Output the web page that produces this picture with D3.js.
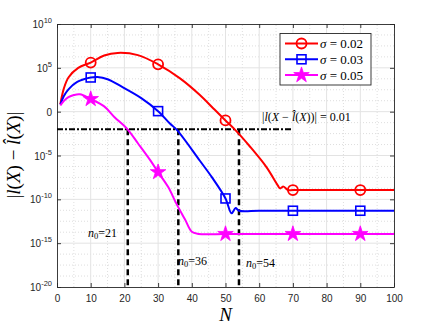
<!DOCTYPE html>
<html>
<head>
<meta charset="utf-8">
<script src="https://cdn.jsdelivr.net/npm/d3@7"></script>
<style>
  body { margin: 0; background: #fff; }
  svg { display: block; }
  .tick-label { font-family: "Liberation Sans", Arial, sans-serif; font-size: 10px; fill: #262626; }
  .tex { font-family: "Liberation Serif", "Times New Roman", serif; fill: #000; }
</style>
</head>
<body>
<svg id="chart" width="436" height="327"></svg>
<script>
// values; y values are log10 of |l(X) - l^(X)|
const redN   = [1, 2, 3.4, 6.3, 10, 14, 18, 24, 30, 36.5, 42.4, 46.4, 50, 52.8, 57.3, 62.2, 65.5, 66.2, 67.2, 68.5, 70, 80, 90, 100];
const redLog = [0.86, 2.6, 3.9, 5.0, 5.6, 6.4, 6.7, 6.45, 5.4, 3.8, 1.9, 0.37, -1.0, -2.05, -4.0, -6.35, -8.4, -8.75, -8.55, -8.94, -8.94, -8.94, -8.94, -8.94];
const blueN   = [1, 2, 3.4, 6, 10, 12, 15, 19.2, 25, 30, 33.5, 35.5, 42.4, 46, 50, 51.8, 53, 54, 60, 70, 80, 90, 100];
const blueLog = [0.8, 1.75, 2.55, 3.4, 3.9, 3.95, 3.7, 2.85, 1.55, 0.06, -1.36, -2.05, -5.6, -7.5, -9.9, -11.6, -11.0, -11.3, -11.3, -11.3, -11.3, -11.3, -11.3];
const magN   = [1, 2, 3.4, 5, 6.8, 10, 14, 17, 20.7, 24, 27.6, 30, 33, 35.5, 38, 40, 42, 50, 60, 70, 80, 90, 100];
const magLog = [0.7, 1.2, 1.65, 1.9, 1.98, 1.44, 0.6, -0.6, -1.9, -3.6, -5.5, -6.9, -8.6, -10.55, -12.3, -13.7, -13.95, -13.95, -13.95, -13.95, -13.95, -13.95, -13.95];

const markN = [10, 30, 50, 70, 90];
const redMarkLog  = [5.6, 5.4, -1.0, -8.94, -8.94];
const blueMarkLog = [3.9, 0.06, -9.9, -11.3, -11.3];
const magMarkLog  = [1.44, -6.9, -13.95, -13.95, -13.95];

const sigmaLabels = ['0.02', '0.03', '0.05'];
const seriesColours = ['#ff0000', '#0000ff', '#ff00ff'];

const xTicks = [0, 10, 20, 30, 40, 50, 60, 70, 80, 90, 100];
const yTickExp = [10, 5, 0, -5, -10, -15, -20];
const threshold = 0.01;
const thresholdEnd = 70;
const n0 = [21, 36, 54];

// layout
const svg = d3.select('#chart');
const margin = {left: 57, right: 42, top: 24, bottom: 40};
const width = 436, height = 327;
const x0 = margin.left, x1 = width - margin.right;
const y0 = height - margin.bottom, y1 = margin.top;

const xScale = d3.scaleLinear().domain([0, 100]).range([x0, x1]);
const yScale = d3.scaleLog().domain([1e-20, 1e10]).range([y0, y1]);
const yE = e => yScale(Math.pow(10, e));

// grid
const grid = svg.append('g');
d3.range(5, 100, 10).forEach(v => {
  grid.append('line').attr('x1', xScale(v)).attr('x2', xScale(v)).attr('y1', y0).attr('y2', y1)
    .attr('stroke', '#c8c8c8').attr('stroke-width', 0.6).attr('stroke-dasharray', '1,2');
});
d3.range(-20, 10, 1.25).filter(e => e % 5 !== 0).forEach(e => {
  grid.append('line').attr('x1', x0).attr('x2', x1).attr('y1', yE(e)).attr('y2', yE(e))
    .attr('stroke', '#c8c8c8').attr('stroke-width', 0.6).attr('stroke-dasharray', '1,2');
});
xTicks.slice(1, -1).forEach(v => {
  grid.append('line').attr('x1', xScale(v)).attr('x2', xScale(v)).attr('y1', y0).attr('y2', y1)
    .attr('stroke', '#e3e3e3').attr('stroke-width', 1);
});
yTickExp.slice(1, -1).forEach(e => {
  grid.append('line').attr('x1', x0).attr('x2', x1).attr('y1', yE(e)).attr('y2', yE(e))
    .attr('stroke', '#e3e3e3').attr('stroke-width', 1);
});

// axes (box with inward ticks)
const xAxis = d3.axisBottom(xScale).tickValues(xTicks).tickSizeInner(-4).tickSizeOuter(0).tickPadding(8);
const xG = svg.append('g').attr('transform', `translate(0,${y0})`).call(xAxis);
xG.selectAll('text').attr('class', 'tick-label').attr('fill', null);
svg.append('g').attr('transform', `translate(0,${y1})`)
  .call(d3.axisTop(xScale).tickValues(xTicks).tickSizeInner(-4).tickSizeOuter(0).tickFormat(''));

const yVals = yTickExp.map(e => Math.pow(10, e));
svg.append('g').attr('transform', `translate(${x0},0)`)
  .call(d3.axisLeft(yScale).tickValues(yVals).tickSizeInner(-4).tickSizeOuter(0).tickFormat(''));
svg.append('g').attr('transform', `translate(${x1},0)`)
  .call(d3.axisRight(yScale).tickValues(yVals).tickSizeInner(-4).tickSizeOuter(0).tickFormat(''));
svg.selectAll('.domain, .tick line').attr('stroke', '#262626').attr('stroke-width', 0.9);

yTickExp.forEach(e => {
  const t = svg.append('text').attr('class', 'tick-label')
    .attr('x', x0 - 5).attr('y', yE(e) + 4).attr('text-anchor', 'end');
  if (e === 0) {
    t.text('0');
  } else {
    t.append('tspan').text('10');
    t.append('tspan').attr('dy', -5).attr('font-size', 7.5).text(e);
  }
});

// series
const lineGen = d3.line().x(d => xScale(d[0])).y(d => yE(d[1])).curve(d3.curveCatmullRom.alpha(0.5));
const series = [
  {pts: d3.zip(redN, redLog), marks: d3.zip(markN, redMarkLog), sym: 'circle'},
  {pts: d3.zip(blueN, blueLog), marks: d3.zip(markN, blueMarkLog), sym: 'square'},
  {pts: d3.zip(magN, magLog), marks: d3.zip(markN, magMarkLog), sym: 'star'}
];

// threshold line and n0 guides
svg.append('line').attr('x1', xScale(0)).attr('x2', xScale(thresholdEnd))
  .attr('y1', yScale(threshold)).attr('y2', yScale(threshold))
  .attr('stroke', '#000').attr('stroke-width', 2).attr('stroke-dasharray', '6,2,2,2');
svg.selectAll('line.n0').data(n0).join('line').attr('class', 'n0')
  .attr('x1', d => xScale(d)).attr('x2', d => xScale(d))
  .attr('y1', yScale(threshold)).attr('y2', y0)
  .attr('stroke', '#000').attr('stroke-width', 2.5).attr('stroke-dasharray', '6,4');

const drawMarker = (g, sym, colour, cx, cy) => {
  if (sym === 'circle') {
    g.append('circle').attr('cx', cx).attr('cy', cy).attr('r', 5)
      .attr('fill', 'none').attr('stroke', colour).attr('stroke-width', 1.8);
  } else if (sym === 'square') {
    g.append('rect').attr('x', cx - 4.5).attr('y', cy - 4.5).attr('width', 9).attr('height', 9)
      .attr('fill', 'none').attr('stroke', colour).attr('stroke-width', 1.6);
  } else {
    g.append('path').attr('d', d3.symbol(d3.symbolStar, 75)())
      .attr('transform', `translate(${cx},${cy})`).attr('fill', colour).attr('stroke', colour).attr('stroke-width', 0.8);
  }
};

series.forEach((s, i) => {
  svg.append('path').attr('d', lineGen(s.pts)).attr('fill', 'none')
    .attr('stroke', seriesColours[i]).attr('stroke-width', 2);
  const g = svg.append('g');
  s.marks.forEach(m => drawMarker(g, s.sym, seriesColours[i], xScale(m[0]), yE(m[1])));
});

// annotations
const thr = svg.append('text').attr('class', 'tex').attr('x', 262).attr('y', 121).attr('font-size', 12);
thr.append('tspan').text('|');
thr.append('tspan').attr('font-style', 'italic').text('l');
thr.append('tspan').text('(');
thr.append('tspan').attr('font-style', 'italic').text('X');
thr.append('tspan').text(' \u2212 ');
thr.append('tspan').attr('font-style', 'italic').text('l\u0302');
thr.append('tspan').text('(');
thr.append('tspan').attr('font-style', 'italic').text('X');
thr.append('tspan').text('))| = 0.01');

const n0Pos = [[88, 237], [178, 265], [246, 267]];
n0.forEach((v, i) => {
  const t = svg.append('text').attr('class', 'tex').attr('x', n0Pos[i][0]).attr('y', n0Pos[i][1]).attr('font-size', 12);
  t.append('tspan').attr('font-style', 'italic').text('n');
  t.append('tspan').attr('font-size', 8.5).attr('dy', 2).text('0');
  t.append('tspan').attr('dy', -2).text('=' + v);
});

// legend
const lg = svg.append('g');
lg.append('rect').attr('x', 280).attr('y', 33.5).attr('width', 91).attr('height', 51.5)
  .attr('fill', '#fff').attr('stroke', '#262626').attr('stroke-width', 0.9);
sigmaLabels.forEach((lab, i) => {
  const ly = 43.5 + i * 15.8;
  lg.append('line').attr('x1', 285).attr('x2', 318).attr('y1', ly).attr('y2', ly)
    .attr('stroke', seriesColours[i]).attr('stroke-width', 2);
  drawMarker(lg, series[i].sym, seriesColours[i], 301.5, ly);
  const t = lg.append('text').attr('class', 'tex').attr('x', 320).attr('y', ly + 4.5).attr('font-size', 13);
  t.append('tspan').attr('font-style', 'italic').text('\u03c3');
  t.append('tspan').text(' = ' + lab);
});

// axis titles
svg.append('text').attr('class', 'tex').attr('x', xScale(50)).attr('y', 321)
  .attr('text-anchor', 'middle').attr('font-size', 19).attr('font-style', 'italic').text('N');

const yl = svg.append('text').attr('class', 'tex').attr('font-size', 19)
  .attr('text-anchor', 'middle').attr('transform', 'translate(20,155) rotate(-90)');
yl.append('tspan').text('|');
yl.append('tspan').attr('font-style', 'italic').text('l');
yl.append('tspan').text('(');
yl.append('tspan').attr('font-style', 'italic').text('X');
yl.append('tspan').text(') \u2212 ');
yl.append('tspan').attr('font-style', 'italic').text('l\u0302');
yl.append('tspan').text('(');
yl.append('tspan').attr('font-style', 'italic').text('X');
yl.append('tspan').text(')|');
</script>
</body>
</html>
